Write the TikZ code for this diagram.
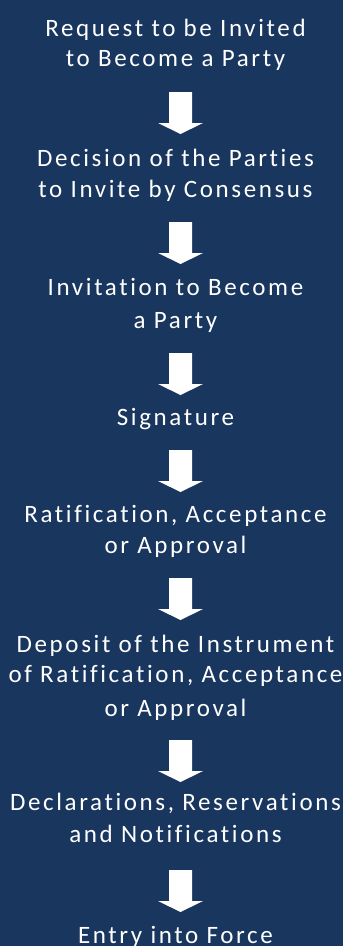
\documentclass[tikz,border=0pt]{standalone}
\usepackage{fontspec}
\setmainfont{Carlito}[LetterSpace=10.5,Ligatures={NoCommon}]
\definecolor{navy}{RGB}{25,54,94}
\newcommand\blockdown[1]{%
  \fill[white] (#1) ++(-11.5,0) -- ++(23,0) -- ++(0,31) -- ++(11,0)
    -- ++(-22.5,11) -- ++(-22.5,-11) -- ++(11,0) -- cycle;}
\begin{document}
\begin{tikzpicture}[x=1pt,y=-1pt,
  stepbox/.style={text=white, font=\fontsize{25}{30}\selectfont, align=center, anchor=base, inner sep=0pt}]
\fill[navy] (0,0) rectangle (343,946);
\useasboundingbox (0,0) rectangle (343,946);

\node[stepbox] (s1) at (175.5,66) {Request to be Invited\\to Become a Party};
\coordinate (a1) at (180.5,92);
\node[stepbox] (s2) at (175.5,197) {Decision of the Parties\\[1pt]to Invite by Consensus};
\coordinate (a2) at (180.5,222);
\node[stepbox] (s3) at (175.5,328) {Invitation to Become\\[3pt]a Party};
\coordinate (a3) at (180.5,353);
\node[stepbox] (s4) at (175.5,425) {Signature};
\coordinate (a4) at (180.5,450);
\node[stepbox] (s5) at (175.5,553) {Ratification, Acceptance\\[1pt]or Approval};
\coordinate (a5) at (180.5,578);
\node[stepbox] (s6) at (175.5,716) {Deposit of the Instrument\\of Ratification, Acceptance\\[4pt]or Approval};
\coordinate (a6) at (180.5,740);
\node[stepbox] (s7) at (175.5,842) {Declarations, Reservations\\[2pt]and Notifications};
\coordinate (a7) at (180.5,870);
\node[stepbox] (s8) at (175.5,943.5) {Entry into Force};

\blockdown{a1}\blockdown{a2}\blockdown{a3}\blockdown{a4}
\blockdown{a5}\blockdown{a6}\blockdown{a7}
\end{tikzpicture}
\end{document}
